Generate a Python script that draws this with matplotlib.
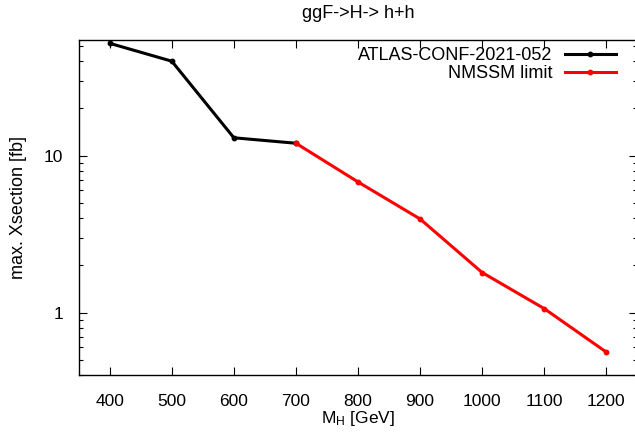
import matplotlib
matplotlib.use("Agg")
import matplotlib.pyplot as plt
from matplotlib.ticker import LogLocator, FixedLocator, NullFormatter

plt.rcParams['font.family'] = ['Liberation Sans', 'DejaVu Sans']

atlas_mass = [400, 500, 600, 700]
atlas_xsec = [52, 40, 13, 12]
nmssm_mass = [700, 800, 900, 1000, 1100, 1200]
nmssm_xsec = [12, 6.8, 3.95, 1.8, 1.06, 0.56]
x_ticks = [400, 500, 600, 700, 800, 900, 1000, 1100, 1200]
y_ticks = [1, 10]

W, H = 635, 432
fig = plt.figure(figsize=(W/100, H/100), dpi=100)
left, right, top, bottom = 78.7, 637.3, 39.5, 375.0
ax = fig.add_axes([left/W, (H-bottom)/H, (right-left)/W, (bottom-top)/H])

ax.plot(atlas_mass, atlas_xsec, color='black', lw=2.2, marker='o', ms=3.2,
        label='ATLAS-CONF-2021-052')
ax.plot(nmssm_mass, nmssm_xsec, color='#ff0000', lw=2.2, marker='o', ms=3.2,
        label='NMSSM limit')

ax.set_yscale('log')
ax.set_xlim(350, 1250)
ax.set_ylim(0.4, 55)
ax.set_xticks(x_ticks)
ax.set_xticklabels([str(v) for v in x_ticks])
ax.yaxis.set_major_locator(FixedLocator(y_ticks))
ax.set_yticklabels([str(v) for v in y_ticks])
ax.yaxis.set_minor_locator(LogLocator(base=10, subs=range(2, 10)))
ax.yaxis.set_minor_formatter(NullFormatter())

ax.tick_params(which='both', direction='in', top=True, right=True,
               labelsize=12.5, width=0.8, colors='black')
ax.tick_params(which='major', length=6)
ax.tick_params(axis='x', which='major', pad=14)
ax.tick_params(axis='y', which='major', pad=11)
ax.tick_params(which='minor', length=3)
for s in ax.spines.values():
    s.set_linewidth(1.0)

ax.set_xlabel(r'$\mathregular{M_H}$ [GeV]', fontsize=12.5, labelpad=0)
ax.set_ylabel('max. Xsection [fb]', fontsize=13, labelpad=12)
fig.text((left + right) / 2 / W, 1 - 13/H, 'ggF->H-> h+h', ha='center',
         va='center', fontsize=13)

ax.legend(loc='upper right', bbox_to_anchor=(616/W, 1 - 47/H),
          bbox_transform=fig.transFigure, frameon=False, markerfirst=False,
          fontsize=13, handlelength=2.85, handletextpad=0.65, labelspacing=0.05,
          borderpad=0, borderaxespad=0)

fig.savefig('out.png', dpi=100)
